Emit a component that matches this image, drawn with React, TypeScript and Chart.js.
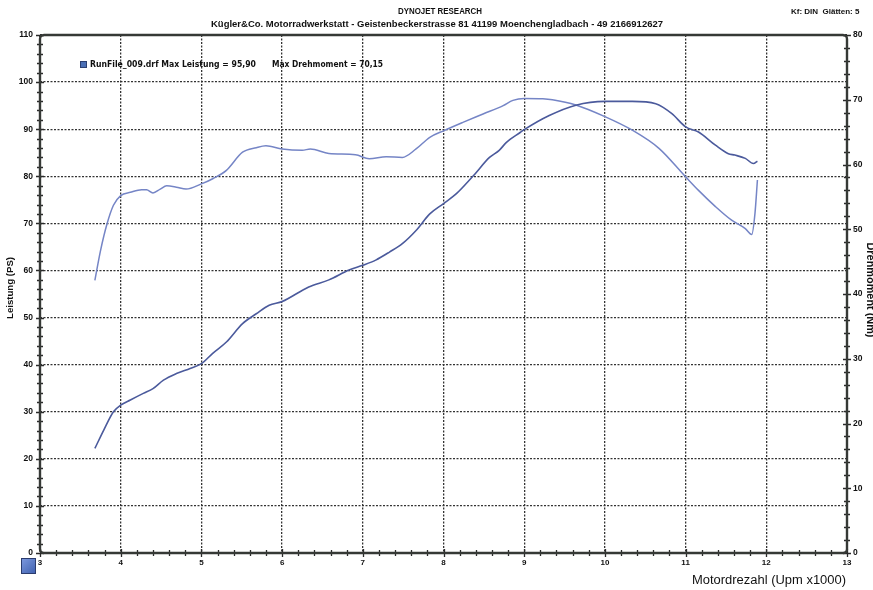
import { useEffect, useRef } from "react";
import { Chart, registerables } from "chart.js";
Chart.register(...registerables);

// Power curve (Leistung, PS) – rpm x1000
const rpmPower = [3.68, 3.79, 3.91, 4.0, 4.12, 4.28, 4.4, 4.53, 4.69, 4.86, 5.0, 5.14, 5.31, 5.51, 5.68, 5.84, 6.0, 6.33, 6.58, 6.83, 7.0, 7.16, 7.33, 7.49, 7.66, 7.83, 8.0, 8.16, 8.37, 8.57, 8.69, 8.78, 8.95, 9.0, 9.31, 9.64, 10.0, 10.34, 10.63, 10.83, 11.0, 11.16, 11.37, 11.53, 11.61, 11.74, 11.84, 11.89];
const power = [22.2, 26.1, 30.0, 31.4, 32.5, 33.9, 34.9, 36.7, 38.1, 39.2, 40.2, 42.4, 44.8, 48.7, 50.8, 52.6, 53.4, 56.5, 58.0, 60.1, 61.1, 62.2, 63.9, 65.7, 68.5, 72.0, 74.2, 76.3, 80.1, 84.0, 85.5, 87.2, 89.3, 89.9, 92.9, 95.1, 95.9, 95.9, 95.4, 93.3, 90.5, 89.4, 86.6, 84.8, 84.5, 83.8, 82.7, 83.2];

// Torque curve (Drehmoment, Nm)
const rpmTorque = [3.68, 3.75, 3.83, 3.91, 4.0, 4.12, 4.26, 4.32, 4.4, 4.49, 4.57, 4.69, 4.81, 5.0, 5.14, 5.31, 5.51, 5.68, 5.8, 6.0, 6.25, 6.35, 6.58, 6.91, 7.08, 7.29, 7.49, 7.66, 7.83, 8.0, 8.24, 8.49, 8.74, 8.86, 9.0, 9.23, 9.35, 9.64, 10.0, 10.34, 10.67, 11.0, 11.16, 11.37, 11.57, 11.74, 11.82, 11.86, 11.89];
const torque = [42.1, 46.7, 50.8, 53.7, 55.2, 55.7, 56.1, 56.1, 55.6, 56.2, 56.7, 56.5, 56.2, 57.0, 57.8, 59.1, 61.9, 62.6, 62.9, 62.4, 62.2, 62.4, 61.7, 61.5, 60.9, 61.2, 61.1, 62.4, 64.2, 65.2, 66.5, 67.8, 69.1, 69.9, 70.2, 70.15, 70.0, 69.2, 67.4, 65.3, 62.5, 58.1, 56.0, 53.5, 51.4, 50.1, 49.2, 52.5, 57.6];

const xRange = [3, 13];
const psRange = [0, 110];
const nmRange = [0, 80];

const titleText = "DYNOJET RESEARCH";
const subtitleText = "Kügler&Co. Motorradwerkstatt - Geistenbeckerstrasse 81 41199 Moenchengladbach - 49 2166912627";
const cornerText = "Kf: DIN  Glätten: 5";
const legendText1 = "RunFile_009.drf Max Leistung = 95,90";
const legendText2 = "Max Drehmoment = 70,15";
const xTitle = "Motordrezahl (Upm x1000)";
const yTitle = "Leistung (PS)";
const y2Title = "Drehmoment (Nm)";

function fitText(ctx: CanvasRenderingContext2D, text: string, x: number, y: number, width: number, font: string, align: "left" | "center" | "right") {
  ctx.save();
  ctx.font = font;
  const w = ctx.measureText(text).width;
  const s = width / w;
  ctx.translate(x, y);
  ctx.scale(s, 1);
  ctx.textAlign = align;
  ctx.textBaseline = "middle";
  ctx.fillText(text, 0, 0);
  ctx.restore();
}

const decor = {
  id: "decor",
  afterDraw(chart: any) {
    const ctx: CanvasRenderingContext2D = chart.ctx;
    const { left, right, top, bottom } = chart.chartArea;
    const { x, y, y2 } = chart.scales;
    ctx.save();
    ctx.strokeStyle = "#2a2a2a";
    ctx.lineWidth = 1.3;
    ctx.beginPath();
    for (let v = psRange[0]; v <= psRange[1]; v += 2) {
      const p = Math.round(y.getPixelForValue(v)) + 0.5;
      const len = v % 10 === 0 ? 4 : 3;
      ctx.moveTo(left - len, p);
      ctx.lineTo(left + len, p);
    }
    for (let v = nmRange[0]; v <= nmRange[1]; v += 2) {
      const p = Math.round(y2.getPixelForValue(v)) + 0.5;
      const len = v % 10 === 0 ? 4 : 3;
      ctx.moveTo(right - len, p);
      ctx.lineTo(right + len, p);
    }
    for (let i = 0; i <= (xRange[1] - xRange[0]) * 5; i++) {
      const v = xRange[0] + i * 0.2;
      const p = Math.round(x.getPixelForValue(v)) + 0.5;
      const len = i % 5 === 0 ? 4 : 3;
      ctx.moveTo(p, bottom - len);
      ctx.lineTo(p, bottom + len);
    }
    ctx.stroke();

    // frame
    ctx.lineWidth = 2.4;
    ctx.strokeStyle = "#363936";
    ctx.beginPath();
    (ctx as any).roundRect(left, top, right - left, bottom - top, 4);
    ctx.stroke();

    // texts
    ctx.fillStyle = "#111";
    fitText(ctx, titleText, 440, 12, 84, 'bold 8.5px "Liberation Sans"', "center");
    fitText(ctx, subtitleText, 437, 25, 452, 'bold 8.5px "Liberation Sans"', "center");
    ctx.font = 'bold 8px "Liberation Sans"';
    ctx.textAlign = "left";
    ctx.textBaseline = "middle";
    ctx.fillText(cornerText, 791, 12);

    // legend
    ctx.fillStyle = "#4a6fb5";
    ctx.fillRect(80, 61, 7, 7);
    ctx.strokeStyle = "#2c3f70";
    ctx.lineWidth = 1;
    ctx.strokeRect(80.5, 61.5, 6, 6);
    ctx.fillStyle = "#111";
    fitText(ctx, legendText1, 90, 65, 166, 'bold 8px "DejaVu Sans"', "left");
    fitText(ctx, legendText2, 272, 65, 111, 'bold 8px "DejaVu Sans"', "left");

    // axis titles
    fitText(ctx, xTitle, 846, 581, 154, '12px "Liberation Sans"', "right");
    ctx.save();
    ctx.translate(11, 288);
    ctx.rotate(-Math.PI / 2);
    fitText(ctx, yTitle, 0, 0, 62, 'bold 9px "Liberation Sans"', "center");
    ctx.restore();
    ctx.save();
    ctx.translate(870, 290);
    ctx.rotate(Math.PI / 2);
    fitText(ctx, y2Title, 0, 0, 95, 'bold 10px "Liberation Sans"', "center");
    ctx.restore();

    // bottom-left icon
    const g = ctx.createLinearGradient(21, 558, 36, 574);
    g.addColorStop(0, "#7f9be0");
    g.addColorStop(1, "#3d5fae");
    ctx.fillStyle = g;
    ctx.fillRect(21, 558, 15, 16);
    ctx.strokeStyle = "#2b3c6e";
    ctx.strokeRect(21.5, 558.5, 14, 15);
    ctx.restore();
  },
};

export default function App() {
  const ref = useRef<HTMLCanvasElement | null>(null);
  useEffect(() => {
    document.body.style.margin = "0";
    const canvas = ref.current;
    if (!canvas) return;
    const xFont = { family: "Liberation Sans", weight: "bold" as const, size: 8 };
    const yFont = { family: "Liberation Sans", weight: "bold" as const, size: 8.5 };
    const chart = new Chart(canvas, {
      type: "line",
      data: {
        datasets: [
          {
            label: "Leistung",
            data: rpmPower.map((r, i) => ({ x: r, y: power[i] })),
            borderColor: "#4b5a9c",
            borderWidth: 1.6,
            pointRadius: 0,
            tension: 0.35,
            cubicInterpolationMode: "monotone",
            yAxisID: "y",
          },
          {
            label: "Drehmoment",
            data: rpmTorque.map((r, i) => ({ x: r, y: torque[i] })),
            borderColor: "#7585c6",
            borderWidth: 1.5,
            pointRadius: 0,
            tension: 0.35,
            cubicInterpolationMode: "monotone",
            yAxisID: "y2",
          },
        ],
      },
      options: {
        responsive: false,
        animation: false,
        layout: { padding: { top: 35, left: 0, right: 0, bottom: 0 } },
        plugins: { legend: { display: false }, tooltip: { enabled: false }, title: { display: false } },
        scales: {
          x: {
            type: "linear",
            min: xRange[0],
            max: xRange[1],
            afterFit: (s: any) => { s.height = 37; },
            ticks: { stepSize: 1, font: xFont, color: "#111", padding: 5, maxRotation: 0 },
            grid: { color: "#333", lineWidth: 1.3, drawTicks: false },
            border: { display: false, dash: [2, 1.5] },
          },
          y: {
            type: "linear",
            position: "left",
            min: psRange[0],
            max: psRange[1],
            afterFit: (s: any) => { s.width = 40; },
            ticks: { stepSize: 10, font: yFont, color: "#111", padding: 7 },
            grid: { color: "#333", lineWidth: 1.3, drawTicks: false },
            border: { display: false, dash: [2, 1.5] },
          },
          y2: {
            type: "linear",
            position: "right",
            min: nmRange[0],
            max: nmRange[1],
            afterFit: (s: any) => { s.width = 26; },
            ticks: { stepSize: 10, font: yFont, color: "#111", padding: 6 },
            grid: { display: false, drawTicks: false },
            border: { display: false },
          },
        },
      },
      plugins: [decor],
    });
    return () => chart.destroy();
  }, []);
  return (
    <div style={{ width: 873, height: 590, background: "#fff" }}>
      <canvas ref={ref} width={873} height={590} />
    </div>
  );
}
